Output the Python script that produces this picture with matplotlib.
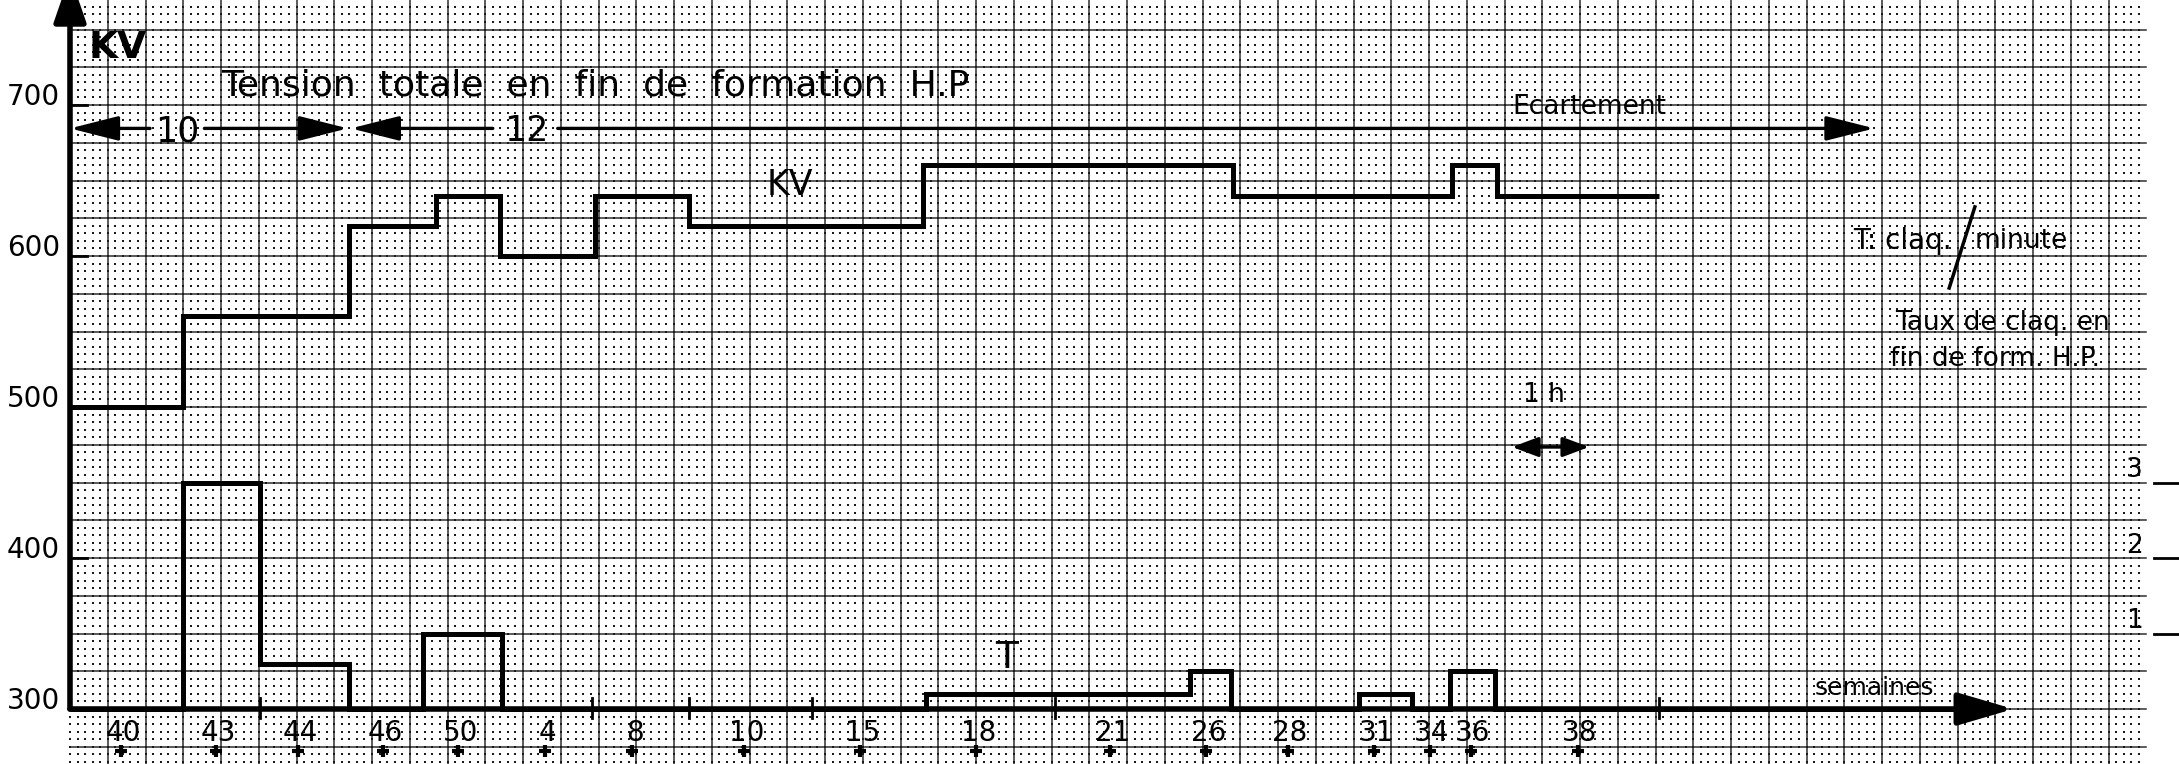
import numpy as np
import matplotlib
matplotlib.use("Agg")
import matplotlib.pyplot as plt

# KV step curve (x in grid cm from the y axis, y in KV)
kv_edges = [0, 1.5, 3.7, 4.85, 5.7, 6.95, 8.2, 11.3, 15.4, 18.3, 18.9, 21.05]
kv_values = [500, 560, 620, 640, 600, 640, 620, 660, 640, 660, 640]

# T: claquages / minute (right scale, 1 unit = 50 KV above the 300 axis)
t_edges = [0, 1.5, 2.52, 3.7, 4.68, 5.72, 11.34, 14.83, 15.38, 17.07, 17.77, 18.28, 18.88, 25.1]
t_values = [0, 3, 0.6, 0, 1, 0, 0.2, 0.5, 0, 0.2, 0, 0.5, 0]

# week labels under the axis
week_pos = [0.70, 1.96, 3.05, 4.18, 5.17, 6.32, 7.48, 8.96, 10.50, 12.03, 13.81, 15.08, 16.16, 17.30, 18.04, 18.58, 20.0]
week_lab = ["40", "43", "44", "46", "50", "4", "8", "10", "15", "18", "21", "26", "28", "31", "34", "36", "38"]
small_ticks = [2.52, 6.91, 8.2, 9.83, 13.05, 21.05]

kv_ticks = [300, 400, 500, 600, 700]
t_ticks = [1, 2, 3]

W, H = 2179, 764
px_x = 75.5     # pixels per grid cm
px_y = 1.51     # pixels per KV
x0_px, y300_px = 70, 709

fig = plt.figure(figsize=(W / 100, H / 100), dpi=100)
ax = fig.add_axes([0, 0, 1, 1])
ax.axis("off")
xmin, xmax = -x0_px / px_x, (W - x0_px) / px_x
ymin, ymax = 300 - (H - y300_px) / px_y, 300 + y300_px / px_y
ax.set_xlim(xmin, xmax)
ax.set_ylim(ymin, ymax)

# graph paper
gx_end = 27.5
for gx in np.arange(0.5, 27.01, 0.5):
    ax.plot([gx, gx], [ymin, ymax], color="#2e2e2e", lw=1.1, zorder=1)
for gy in np.arange(275, ymax, 25):
    ax.plot([0, gx_end], [gy, gy], color="#2e2e2e", lw=1.1, zorder=1)
dx, dy = np.meshgrid(np.arange(0, gx_end, 0.1), np.arange(265, ymax, 5))
ax.scatter(dx.ravel(), dy.ravel(), s=3.5, marker="s", color="#1a1a1a", linewidths=0, zorder=1)

# axes with arrows
ax.annotate("", xy=(25.74, 300), xytext=(0, 300),
            arrowprops=dict(arrowstyle="-|>,head_length=1.7,head_width=0.5", lw=4,
                            color="k", shrinkA=0, shrinkB=0, mutation_scale=20), zorder=5)
ax.annotate("", xy=(0, 786), xytext=(0, 300), annotation_clip=False,
            arrowprops=dict(arrowstyle="-|>,head_length=1.45,head_width=0.5", lw=4,
                            color="k", shrinkA=0, shrinkB=0, mutation_scale=20), zorder=5)

for v in kv_ticks:
    if v > 300:
        ax.plot([0, 0.22], [v, v], color="k", lw=2, zorder=4)
    ax.text(-0.13, v + 5, str(v), ha="right", va="center", fontsize=20)

for st in small_ticks:
    ax.plot([st, st], [294, 307], color="k", lw=2, zorder=4)

for p, lab in zip(week_pos, week_lab):
    ax.text(p, 284, lab, ha="center", va="center", fontsize=20)
    ax.plot(p - 0.03, 272.5, marker="+", ms=9, mew=3, color="k", zorder=4)

# curves
ax.stairs(kv_values, kv_edges, baseline=None, color="k", lw=3.6, zorder=4)
ax.stairs([300 + 50 * t for t in t_values], t_edges, baseline=None, color="k", lw=3.6, zorder=4)

# right-hand T scale
for t in t_ticks:
    ax.plot([27.6, xmax], [300 + 50 * t, 300 + 50 * t], color="k", lw=2, zorder=4)
    ax.text(27.45, 300 + 50 * t + 8, str(t), ha="right", va="center", fontsize=19)

# Ecartement arrows
ya = 684.5
def arrow(tip, tail):
    ax.annotate("", xy=(tip, ya), xytext=(tail, ya),
                arrowprops=dict(arrowstyle="-|>,head_length=1.5,head_width=0.38", lw=2.4,
                                color="k", shrinkA=0, shrinkB=0, mutation_scale=20), zorder=5)
arrow(0.0, 1.06)
arrow(3.68, 1.78)
arrow(3.72, 5.6)
arrow(23.9, 6.46)
ax.text(1.42, ya - 2, "10", ha="center", va="center", fontsize=25)
ax.text(6.05, ya - 2, "12", ha="center", va="center", fontsize=25)

# texts
ax.text(0.63, 738, "KV", ha="center", va="center", fontsize=27, fontweight="bold")
ax.text(2.0, 713, "Tension  totale  en  fin  de  formation  H.P", ha="left", va="center", fontsize=26)
ax.text(9.54, 647, "KV", ha="center", va="center", fontsize=25)
ax.text(20.13, 699, "Ecartement", ha="center", va="center", fontsize=19)
ax.text(12.41, 334, "T", ha="center", va="center", fontsize=27)
ax.text(23.9, 314, "semaines", ha="center", va="center", fontsize=18)
ax.text(19.52, 508, "1 h", ha="center", va="center", fontsize=19)
ax.annotate("", xy=(19.1, 473.5), xytext=(20.12, 473.5),
            arrowprops=dict(arrowstyle="<|-|>,head_length=0.8,head_width=0.3", lw=2.4,
                            color="k", shrinkA=0, shrinkB=0, mutation_scale=20), zorder=5)

ax.text(23.62, 610, "T: claq.", ha="left", va="center", fontsize=20)
ax.text(25.23, 610, "minute", ha="left", va="center", fontsize=19)
ax.plot([25.23, 24.89], [632.5, 578.8], color="k", lw=2.5, zorder=4)
ax.text(24.17, 555.5, "Taux de claq. en", ha="left", va="center", fontsize=19)
ax.text(24.1, 532, "fin de form. H.P.", ha="left", va="center", fontsize=19)

fig.savefig("out.png", dpi=100)
